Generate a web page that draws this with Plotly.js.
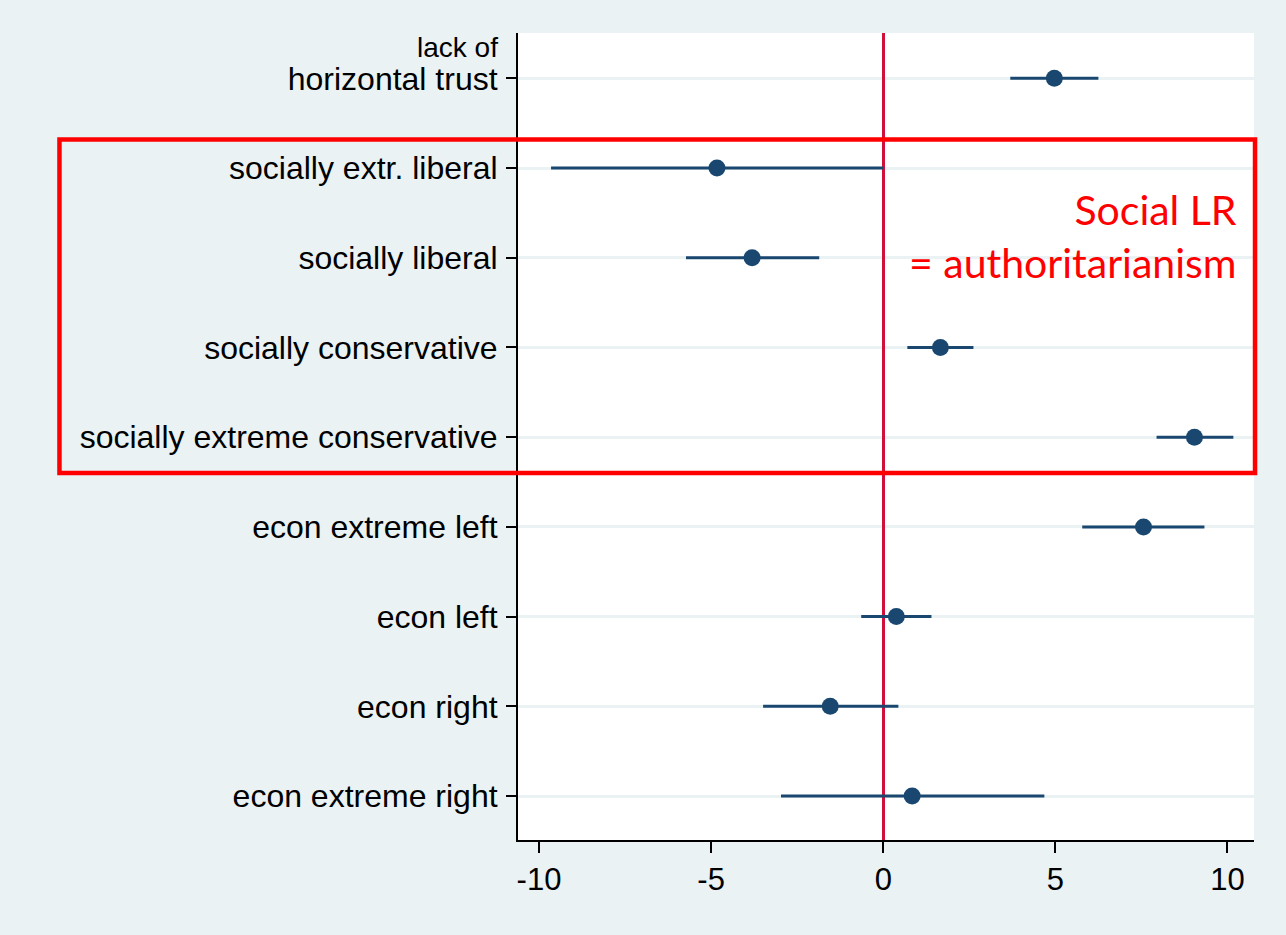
<!DOCTYPE html>
<html>
<head>
<meta charset="utf-8">
<script src="https://cdn.plot.ly/plotly-3.0.1.min.js"></script>
<style>html,body{margin:0;padding:0;background:#eaf2f3;}#chart{width:1286px;height:935px;}</style>
</head>
<body>
<div id="chart"></div>
<script>
// Category labels (top to bottom)
const categories = [
  'horizontal trust',
  'socially extr. liberal',
  'socially liberal',
  'socially conservative',
  'socially extreme conservative',
  'econ extreme left',
  'econ left',
  'econ right',
  'econ extreme right'
];
const firstLabelPrefix = 'lack of';
// Point estimates
const estimates = [4.97, -4.83, -3.81, 1.66, 9.04, 7.56, 0.38, -1.54, 0.84];
// Confidence interval bounds
const ciLow  = [3.69, -9.65, -5.73, 0.70, 7.94, 5.78, -0.64, -3.49, -2.97];
const ciHigh = [6.25,  0.00, -1.86, 2.62, 10.17, 9.33, 1.40, 0.44, 4.68];
const xTicks = [-10, -5, 0, 5, 10];

const pos = categories.map((_, i) => i);

// Build CI segments
const ciX = [], ciY = [];
pos.forEach((p, i) => { ciX.push(ciLow[i], ciHigh[i], null); ciY.push(p, p, null); });

const traces = [
  {x: ciX, y: ciY, mode: 'lines', type: 'scatter', line: {color: '#1a476f', width: 3}, hoverinfo: 'skip', showlegend: false},
  {x: estimates, y: pos, mode: 'markers', type: 'scatter', marker: {color: '#1a476f', size: 17}, showlegend: false}
];

const layout = {
  width: 1286, height: 935,
  paper_bgcolor: '#eaf2f3', plot_bgcolor: '#ffffff',
  margin: {l: 518, r: 32, t: 33, b: 95},
  font: {family: '"Liberation Sans", Arial, sans-serif', color: '#000'},
  xaxis: {
    range: [-10.61, 10.77], tickvals: xTicks, ticktext: xTicks.map(String),
    showgrid: false, zeroline: true, zerolinecolor: '#d0103a', zerolinewidth: 2.5,
    showline: true, linecolor: '#000', linewidth: 2,
    ticks: 'outside', ticklen: 11, tickwidth: 2, tickcolor: '#000',
    tickfont: {size: 31}, ticklabelstandoff: 0
  },
  yaxis: {
    range: [8.49, -0.505], tickvals: pos, ticktext: categories,
    showgrid: true, gridcolor: '#eaf2f3', gridwidth: 3, zeroline: false,
    showline: true, linecolor: '#000', linewidth: 2,
    ticks: 'outside', ticklen: 10, tickwidth: 2, tickcolor: '#000',
    tickfont: {size: 32}, ticklabelstandoff: 2
  },
  shapes: [
    {type: 'rect', xref: 'paper', yref: 'paper', x0: -0.623, x1: 1.0014, y0: 0.4548, y1: 0.868, line: {color: '#ff0000', width: 4.5}, fillcolor: 'rgba(0,0,0,0)', layer: 'above'}
  ],
  annotations: [
    {xref: 'paper', yref: 'y', x: -0.024, y: pos[0], yshift: 31, xanchor: 'right', yanchor: 'middle',
     showarrow: false, text: firstLabelPrefix, font: {size: 28, color: '#000'}},
    {xref: 'paper', yref: 'paper', x: 0.979, y: 0.748, xanchor: 'right', yanchor: 'middle', align: 'right',
     showarrow: false, text: 'Social LR<br>= authoritarianism', font: {family: 'Lato, "Open Sans", sans-serif', size: 41, color: '#ff0000'}}
  ]
};

Plotly.newPlot('chart', traces, layout, {displayModeBar: false, staticPlot: true});
</script>
</body>
</html>
